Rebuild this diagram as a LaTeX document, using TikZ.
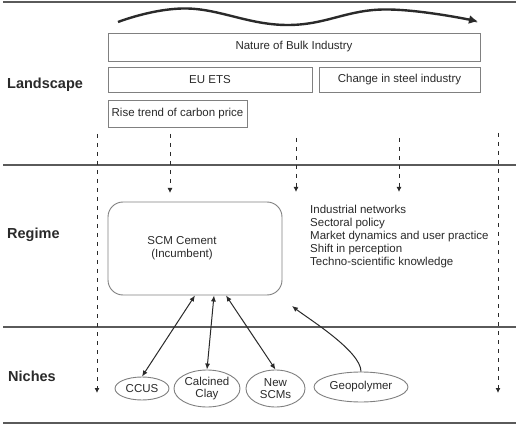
\documentclass[tikz,border=0pt]{standalone}
\usepackage{fontspec}
\setmainfont{Liberation Sans}
\usetikzlibrary{arrows.meta,shapes.geometric}
\definecolor{rule}{HTML}{5A5A5A}
\definecolor{boxline}{HTML}{808080}
\definecolor{ink}{HTML}{2A2A2A}
\tikzset{
  txt/.style={font=\fontsize{11.5}{13}\selectfont, text=ink},
  lbl/.style={font=\fontsize{14.5}{16}\selectfont\bfseries, text=ink, anchor=west, inner sep=0pt},
  sepline/.style={draw=rule, line width=1.4pt},
  rectbox/.style={txt, draw=boxline, line width=0.9pt, inner sep=0pt},
  ellbox/.style={txt, ellipse, draw=boxline, line width=0.9pt, inner sep=0pt, align=center},
  dasharrow/.style={draw=ink, line width=0.9pt, dash pattern=on 4pt off 5pt, -{Latex[length=5pt,width=5pt]}},
  linkarrow/.style={draw=ink, line width=1pt, {Latex[length=6pt,width=5pt]}-{Latex[length=6pt,width=5pt]}},
  onearrow/.style={draw=ink, line width=1pt, -{Latex[length=6pt,width=5pt]}},
}
\begin{document}
\begin{tikzpicture}[x=1pt,y=-1pt]
\useasboundingbox (0,0) rectangle (520,425);
\fill[white] (0,0) rectangle (520,425);
% separators
\draw[sepline] (3,2) -- (516,2);
\draw[sepline] (3,165) -- (516,165);
\draw[sepline] (3,327) -- (516,327);
\draw[sepline] (3,423) -- (516,423);
% wavy arrow
\draw[ink, line width=2.4pt, -{Latex[length=9pt,width=9pt]}, smooth, tension=0.7]
  plot coordinates {(118,22) (187,8.5) (287,25) (383,9.5) (478,21.5)};
% level labels
\node[lbl] (landscape) at (7,85) {Landscape};
\node[lbl] (regime) at (7,235) {Regime};
\node[lbl] (niches) at (8,376) {Niches};
% landscape boxes
\node[rectbox, minimum width=372pt, minimum height=28pt] (nat) at (294,47) {Nature of Bulk Industry};
\node[rectbox, minimum width=204pt, minimum height=25pt] (ets) at (210,79.5) {EU ETS};
\node[rectbox, minimum width=161pt, minimum height=25pt] (steel) at (399.5,79.5) {Change in steel industry};
\node[rectbox, minimum width=139pt, minimum height=27pt] (rise) at (177.5,113.5) {Rise trend of carbon price};
% regime
\node[draw=boxline, line width=0.9pt, rounded corners=15pt, minimum width=174pt, minimum height=93pt, inner sep=0pt] (scm) at (195,248.5) {};
\node[txt, align=center, inner sep=0pt] (scmtext) at (182,248) {SCM Cement\\(Incumbent)};
\node[txt, align=left, anchor=north west, inner sep=0pt] (factors) at (310,205)
  {Industrial networks\\Sectoral policy\\Market dynamics and user practice\\Shift in perception\\Techno-scientific knowledge};
% dashed arrows
\coordinate (d1a) at (97,134); \coordinate (d1b) at (97,393);
\coordinate (d2a) at (170,134); \coordinate (d2b) at (170,193);
\coordinate (d3a) at (296,138); \coordinate (d3b) at (296,192);
\coordinate (d4a) at (399,138); \coordinate (d4b) at (399,192);
\coordinate (d5a) at (498,133); \coordinate (d5b) at (498,393);
\draw[dasharrow] (d1a) -- (d1b);
\draw[dasharrow] (d2a) -- (d2b);
\draw[dasharrow] (d3a) -- (d3b);
\draw[dasharrow] (d4a) -- (d4b);
\draw[dasharrow] (d5a) -- (d5b);
% niches
\node[ellbox, minimum width=54pt, minimum height=23pt] (ccus) at (142,388.5) {CCUS};
\node[ellbox, minimum width=66pt, minimum height=37pt] (clay) at (207,388.5) {Calcined\\[-1pt]Clay};
\node[ellbox, minimum width=59pt, minimum height=37pt] (newscm) at (275.5,388.5) {New\\[-1pt]SCMs};
\node[ellbox, minimum width=94pt, minimum height=30pt] (geo) at (361,387) {Geopolymer};
% links
\draw[linkarrow] (ccus.north) -- (scm.south);
\draw[linkarrow] (clay.north) -- ([xshift=19pt]scm.south);
\draw[linkarrow] (newscm.north) -- ([xshift=31pt]scm.south);
\coordinate (geoend) at (292,306);
\draw[onearrow] (geo.north) to[out=90, in=-38, looseness=0.55] (geoend);
\end{tikzpicture}
\end{document}
